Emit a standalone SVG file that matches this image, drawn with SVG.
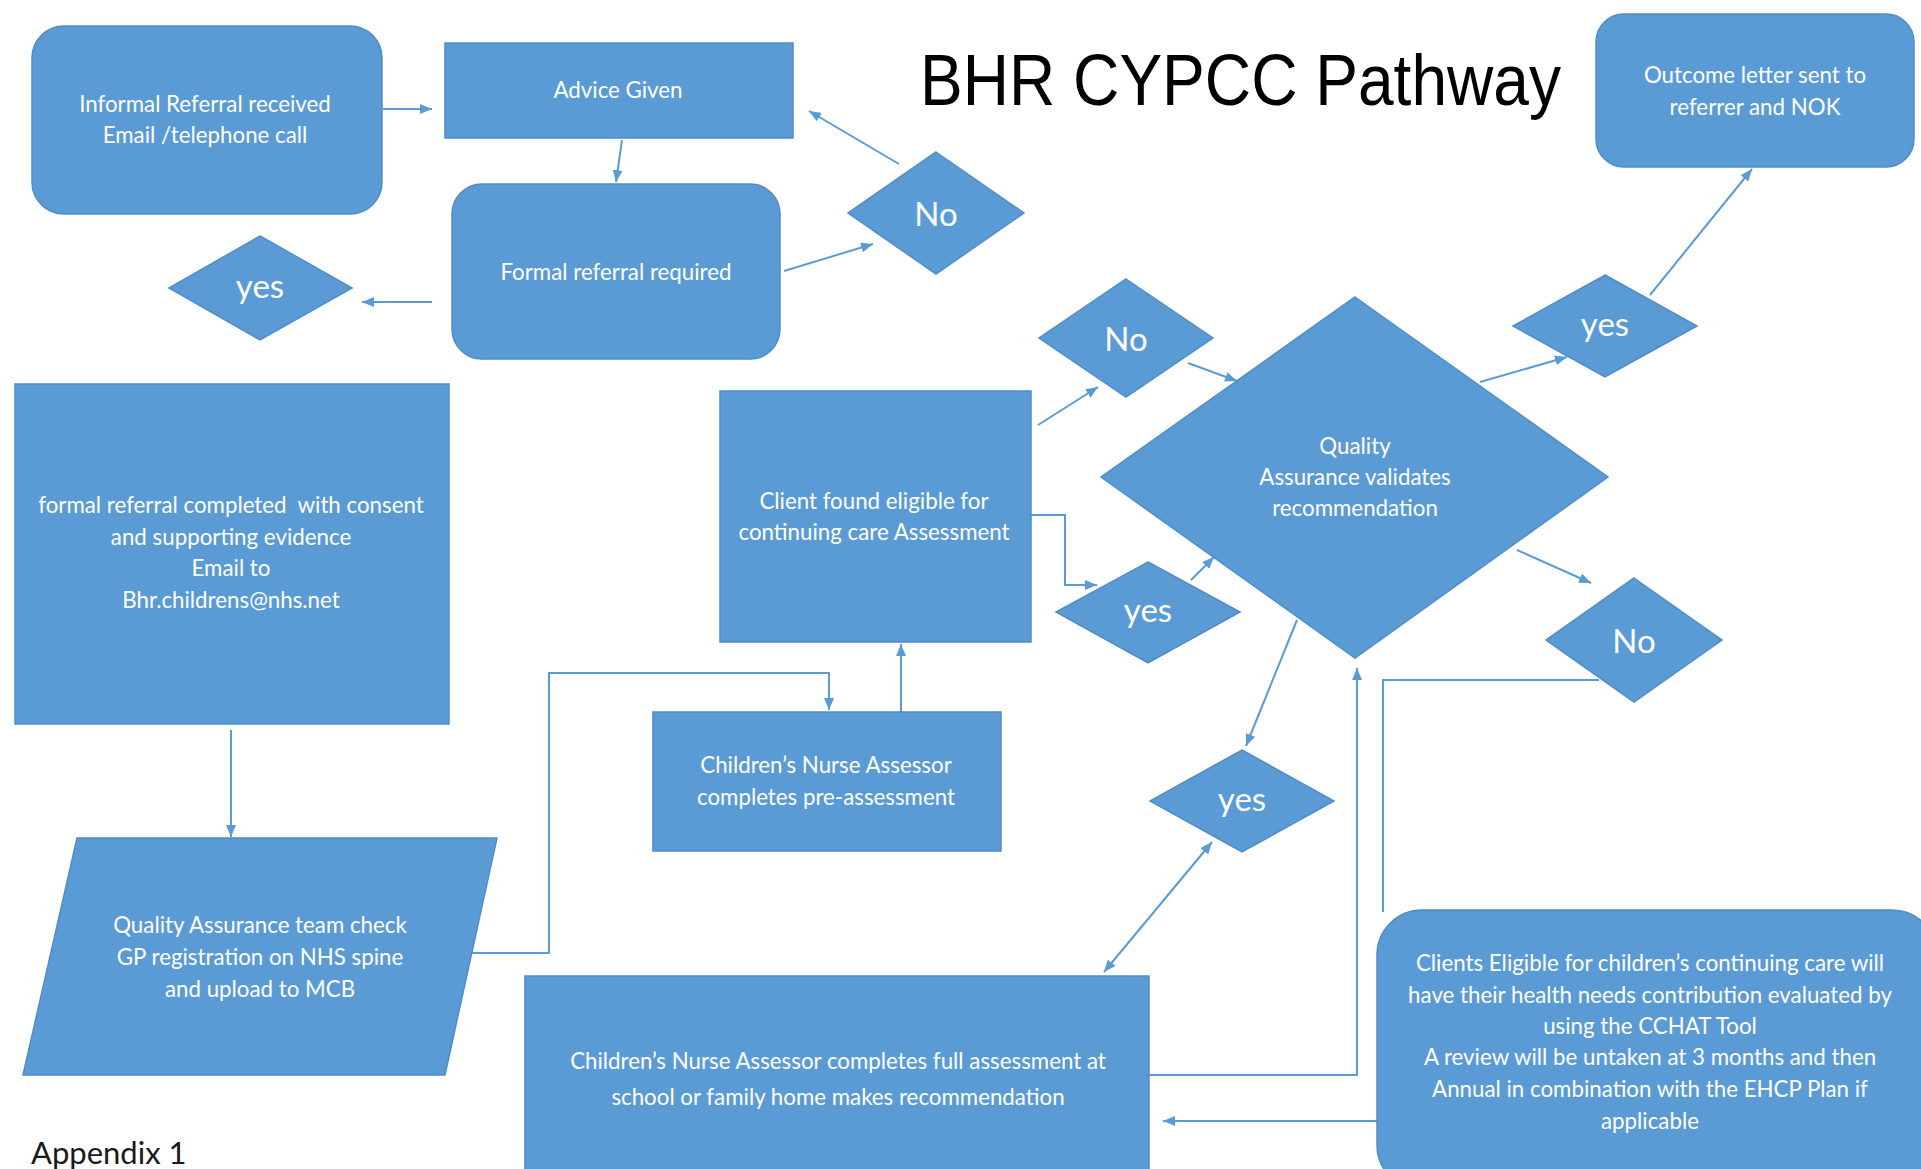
<svg xmlns="http://www.w3.org/2000/svg" width="1921" height="1169" viewBox="0 0 1921 1169">
<style>
.n{fill:#5B9BD5;stroke:#4F8DC8;stroke-width:1.5}
.t{font-family:Lato,"Liberation Sans",sans-serif;font-size:22.3px;fill:#FFFFFF;text-anchor:middle}
.d{font-family:Lato,"Liberation Sans",sans-serif;font-size:33px;fill:#FFFFFF;text-anchor:middle}
.c{fill:none;stroke:#5B9BD5;stroke-width:2}
.a{marker-end:url(#ah)}
</style>
<defs>
<marker id="ah" markerUnits="userSpaceOnUse" markerWidth="12" markerHeight="10" refX="12" refY="5" orient="auto-start-reverse">
<path d="M0,0 L12,5 L0,10 z" fill="#5B9BD5"/>
</marker>
</defs>
<rect width="1921" height="1169" fill="#FFFFFF"/>

<g id="connectors">
<path class="c a" d="M383,109 L432,109"/>
<path class="c a" d="M622,140 L616,182"/>
<path class="c a" d="M784,271 L873,244"/>
<path class="c a" d="M899,164 L809,111"/>
<path class="c a" d="M432,302 L362,302"/>
<path class="c a" d="M231,730 L231,837"/>
<path class="c a" d="M470,953 L549,953 L549,673 L829,673 L829,710"/>
<path class="c a" d="M901,712 L901,644"/>
<path class="c a" d="M1038,425 L1098,387"/>
<path class="c a" d="M1029,515 L1065,515 L1065,585 L1097,585"/>
<path class="c a" d="M1191,580 L1214,557"/>
<path class="c a" d="M1188,363 L1237,381"/>
<path class="c a" d="M1480,382 L1567,357"/>
<path class="c a" d="M1650,295 L1752,169"/>
<path class="c a" d="M1517,550 L1591,583"/>
<path class="c a" d="M1297,620 L1246,746"/>
<path class="c a" d="M1104,972 L1212,842" marker-start="url(#ah)"/>
<path class="c a" d="M1149,1075 L1357,1075 L1357,668"/>
<path class="c" d="M1599,680 L1383,680 L1383,912"/>
<path class="c a" d="M1377,1121 L1163,1121"/>
</g>

<g id="title">
<text x="920" y="105" font-family="'Liberation Sans',Arial,sans-serif" font-size="72" fill="#000000" textLength="641" lengthAdjust="spacingAndGlyphs">BHR CYPCC Pathway</text>
</g>

<g id="informal-referral">
<rect class="n" x="32" y="26" width="350" height="188" rx="32"/>
<text class="t" x="205" y="112">Informal Referral received</text>
<text class="t" x="205" y="143">Email /telephone call</text>
</g>

<g id="advice-given">
<rect class="n" x="445" y="43" width="348" height="95"/>
<text class="t" x="618" y="98">Advice Given</text>
</g>

<g id="formal-referral-required">
<rect class="n" x="452" y="184" width="328" height="175" rx="30"/>
<text class="t" x="616" y="280">Formal referral required</text>
</g>

<g id="no-top">
<polygon class="n" points="936,152 1024,213 936,274 848,213"/>
<text class="d" x="936" y="226">No</text>
</g>

<g id="yes-left">
<polygon class="n" points="260,236 352,288 260,340 169,288"/>
<text class="d" x="260" y="298">yes</text>
</g>

<g id="outcome-letter">
<rect class="n" x="1596" y="14" width="318" height="153" rx="28"/>
<text class="t" x="1755" y="83">Outcome letter sent to</text>
<text class="t" x="1755" y="115">referrer and NOK</text>
</g>

<g id="formal-referral-completed">
<rect class="n" x="15" y="384" width="434" height="340"/>
<text class="t" x="231" y="513" xml:space="preserve">formal referral completed  with consent</text>
<text class="t" x="231" y="545">and supporting evidence</text>
<text class="t" x="231" y="576">Email to</text>
<text class="t" x="231" y="608">Bhr.childrens@nhs.net</text>
</g>

<g id="client-eligible">
<rect class="n" x="720" y="391" width="311" height="251"/>
<text class="t" x="874" y="509">Client found eligible for</text>
<text class="t" x="874" y="540">continuing care Assessment</text>
</g>

<g id="no-mid">
<polygon class="n" points="1126,279 1213,338 1126,397 1039,338"/>
<text class="d" x="1126" y="351">No</text>
</g>

<g id="yes-right-top">
<polygon class="n" points="1605,275 1697,326 1605,377 1513,326"/>
<text class="d" x="1605" y="336">yes</text>
</g>

<g id="qa-validates">
<polygon class="n" points="1355,297 1608,477 1355,658 1101,477"/>
<text class="t" x="1355" y="454">Quality</text>
<text class="t" x="1355" y="485">Assurance validates</text>
<text class="t" x="1355" y="516">recommendation</text>
</g>

<g id="yes-mid">
<polygon class="n" points="1148,562 1240,612 1148,663 1056,612"/>
<text class="d" x="1148" y="622">yes</text>
</g>

<g id="no-lower">
<polygon class="n" points="1634,578 1722,640 1634,702 1546,640"/>
<text class="d" x="1634" y="653">No</text>
</g>

<g id="yes-bottom">
<polygon class="n" points="1242,750 1334,801 1242,852 1150,801"/>
<text class="d" x="1242" y="811">yes</text>
</g>

<g id="pre-assessment">
<rect class="n" x="653" y="712" width="348" height="139"/>
<text class="t" x="826" y="773">Children’s Nurse Assessor</text>
<text class="t" x="826" y="805">completes pre-assessment</text>
</g>

<g id="qa-team-check">
<polygon class="n" points="77,838 497,838 445,1075 23,1075"/>
<text class="t" x="260" y="933">Quality Assurance team check</text>
<text class="t" x="260" y="965">GP registration on NHS spine</text>
<text class="t" x="260" y="997">and upload to MCB</text>
</g>

<g id="full-assessment">
<rect class="n" x="525" y="976" width="624" height="210"/>
<text class="t" x="838" y="1069">Children’s Nurse Assessor completes full assessment at</text>
<text class="t" x="838" y="1105">school or family home makes recommendation</text>
</g>

<g id="clients-eligible">
<rect class="n" x="1377" y="910" width="560" height="280" rx="45"/>
<text class="t" x="1650" y="971">Clients Eligible for children’s continuing care will</text>
<text class="t" x="1650" y="1003">have their health needs contribution evaluated by</text>
<text class="t" x="1650" y="1034">using the CCHAT Tool</text>
<text class="t" x="1650" y="1065">A review will be untaken at 3 months and then</text>
<text class="t" x="1650" y="1097">Annual in combination with the EHCP Plan if</text>
<text class="t" x="1650" y="1129">applicable</text>
</g>

<g id="appendix">
<text x="31" y="1164" font-family="Lato,'Liberation Sans',sans-serif" font-size="31" fill="#1A1A1A">Appendix 1</text>
</g>
</svg>
